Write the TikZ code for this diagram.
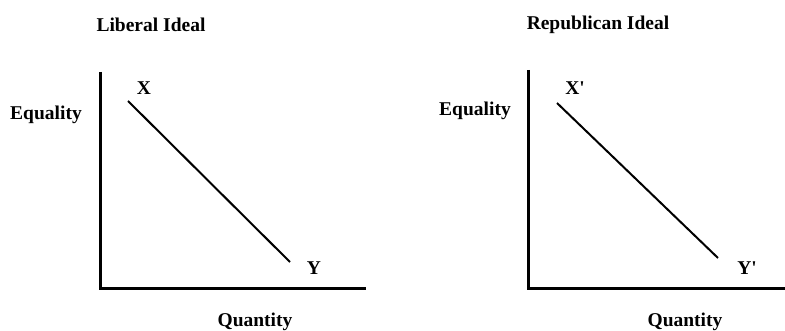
\documentclass[tikz,border=0pt]{standalone}
\usepackage{fontspec}
\setmainfont{Liberation Serif}
\begin{document}
\begin{tikzpicture}[x=1pt,y=-1pt,
  lbl/.style={font=\fontsize{19.5}{22}\selectfont\bfseries,inner sep=0pt},
  axis/.style={line width=3pt},
  curve/.style={line width=2pt}]
\useasboundingbox (0,0) rectangle (785,331);
% left chart
\coordinate (o1) at (100,289);
\coordinate (t1) at (100,72);
\coordinate (r1) at (366,289);
\draw[axis] (t1) -- (o1) -- (r1);
\coordinate (x1) at (128,101);
\coordinate (y1) at (290,262);
\draw[curve] (x1) -- (y1);
\node[lbl] (X) at (144,88) {X};
\node[lbl] (Y) at (314,268) {Y};
\node[lbl] (eq1) at (46,115) {Equality};
\node[lbl] (q1) at (255,322) {Quantity};
\node[lbl] (t1l) at (151,25) {Liberal Ideal};
% right chart
\coordinate (o2) at (528,289);
\coordinate (t2) at (528,70);
\coordinate (r2) at (785,289);
\draw[axis] (t2) -- (o2) -- (r2);
\coordinate (x2) at (557,103);
\coordinate (y2) at (718,258);
\draw[curve] (x2) -- (y2);
\node[lbl] (Xp) at (575,88) {X\textquotesingle};
\node[lbl] (Yp) at (747,268) {Y\textquotesingle};
\node[lbl] (eq2) at (475,111) {Equality};
\node[lbl] (q2) at (685,322) {Quantity};
\node[lbl] (t2l) at (598,25) {Republican Ideal};
\end{tikzpicture}
\end{document}
